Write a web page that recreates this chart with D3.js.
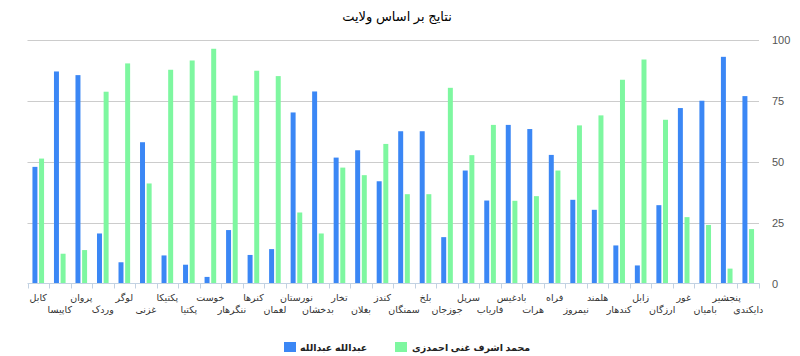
<!DOCTYPE html>
<html><head><meta charset="utf-8">
<script src="https://cdn.jsdelivr.net/npm/d3@7"></script>
<style>body{margin:0;background:#fff}svg{display:block}text{font-family:"Liberation Sans","DejaVu Sans",Arial,sans-serif}</style>
</head><body><svg id="c" width="800" height="356"></svg>
<script>
const title = "نتایج بر اساس ولایت";
const provinces = ["کابل","کاپیسا","پروان","وردک","لوگر","غزنی","پکتیکا","پکتیا","خوست","ننگرهار","کنرها","لغمان","نورستان","بدخشان","تخار","بغلان","کندز","سمنگان","بلخ","جوزجان","سرپل","فاریاب","بادغیس","هرات","فراه","نیمروز","هلمند","کندهار","زابل","ارزگان","غور","بامیان","پنجشیر","دایکندی"];
const seriesNames = ["عبدالله عبدالله","محمد اشرف غنی احمدزی"];
const abdullah = [47.8,86.9,85.4,20.5,8.7,57.9,11.5,7.7,2.7,21.9,11.7,14.1,70.1,78.7,51.6,54.6,41.9,62.4,62.4,19.0,46.3,34.0,65.0,63.3,52.7,34.3,30.2,15.6,7.4,32.1,71.9,74.9,92.9,76.8];
const ghani = [51.2,12.2,13.7,78.6,90.2,41.0,87.6,91.4,96.2,77.0,87.2,85.0,29.1,20.5,47.5,44.4,57.2,36.6,36.6,80.2,52.6,65.0,33.9,35.8,46.3,64.8,68.9,83.5,91.8,67.1,27.2,24.0,6.1,22.3];
const yTicks = [0,25,50,75,100];
const colors = ["#3b87f5","#7ef7a0"];

const svg = d3.select("#c");
const L = 27.5, R = 759, T = 39.5, B = 283.5;
const x = d3.scaleBand().domain(provinces).range([L, R]).padding(0);
const y = d3.scaleLinear().domain([0,100]).range([B, T]);
const bw = x.bandwidth();
const x1 = d3.scaleBand().domain([0,1]).range([bw*0.23, bw*0.77]).paddingInner(0.25);

svg.append("text").attr("x",397).attr("y",21).attr("text-anchor","middle")
  .attr("font-size",13).attr("fill","#000").text(title);

// gridlines
svg.append("g").selectAll("line").data(yTicks.filter(d=>d>0)).join("line")
  .attr("x1",L).attr("x2",R).attr("y1",d=>Math.round(y(d))+0.5).attr("y2",d=>Math.round(y(d))+0.5)
  .attr("stroke","#cccccc").attr("stroke-width",1.2);

// right axis labels
const yAx = svg.append("g").attr("transform",`translate(${R},0)`)
  .call(d3.axisRight(y).tickValues(yTicks).tickSize(0).tickPadding(13));
yAx.select(".domain").remove();
yAx.selectAll("text").attr("font-size",11).attr("fill","#555").attr("font-family","Liberation Sans, Arial, sans-serif");

// bars
const data = provinces.map((p,i)=>({p, v:[abdullah[i], ghani[i]]}));
const g = svg.append("g");
const grp = g.selectAll("g").data(data).join("g").attr("transform",d=>`translate(${x(d.p)},0)`);
grp.selectAll("rect").data(d=>d.v.map((v,k)=>({v,k}))).join("rect")
  .attr("x",d=>x1(d.k)).attr("width",x1.bandwidth())
  .attr("y",d=>y(d.v)).attr("height",d=>B-y(d.v))
  .attr("fill",d=>colors[d.k]);

// x axis
svg.append("line").attr("x1",L).attr("x2",R+0.5).attr("y1",B).attr("y2",B).attr("stroke","#c3d2e2").attr("stroke-width",1);
const bounds = provinces.map(p=>x(p)).concat([R]);
svg.append("g").selectAll("line").data(bounds).join("line")
  .attr("x1",d=>Math.round(d)+0.5).attr("x2",d=>Math.round(d)+0.5).attr("y1",B).attr("y2",B+5)
  .attr("stroke","#c3d2e2");
svg.append("g").selectAll("text").data(provinces).join("text")
  .attr("x",d=>x(d)+bw/2).attr("y",(d,i)=> i%2===0 ? 301 : 313)
  .attr("text-anchor","middle").attr("font-size",9.5).attr("fill","#333").text(d=>d);

// legend
const leg = [{x:284, tx:300}, {x:395, tx:412}];
seriesNames.forEach((n,k)=>{
  svg.append("rect").attr("x",leg[k].x).attr("y",342).attr("width",12).attr("height",10).attr("fill",colors[k]);
  svg.append("text").attr("x",leg[k].tx).attr("y",350.5).attr("text-anchor","start").attr("direction","ltr")
    .attr("font-size",9.5).attr("font-weight","bold").attr("fill","#222").text(n);
});
</script></body></html>
